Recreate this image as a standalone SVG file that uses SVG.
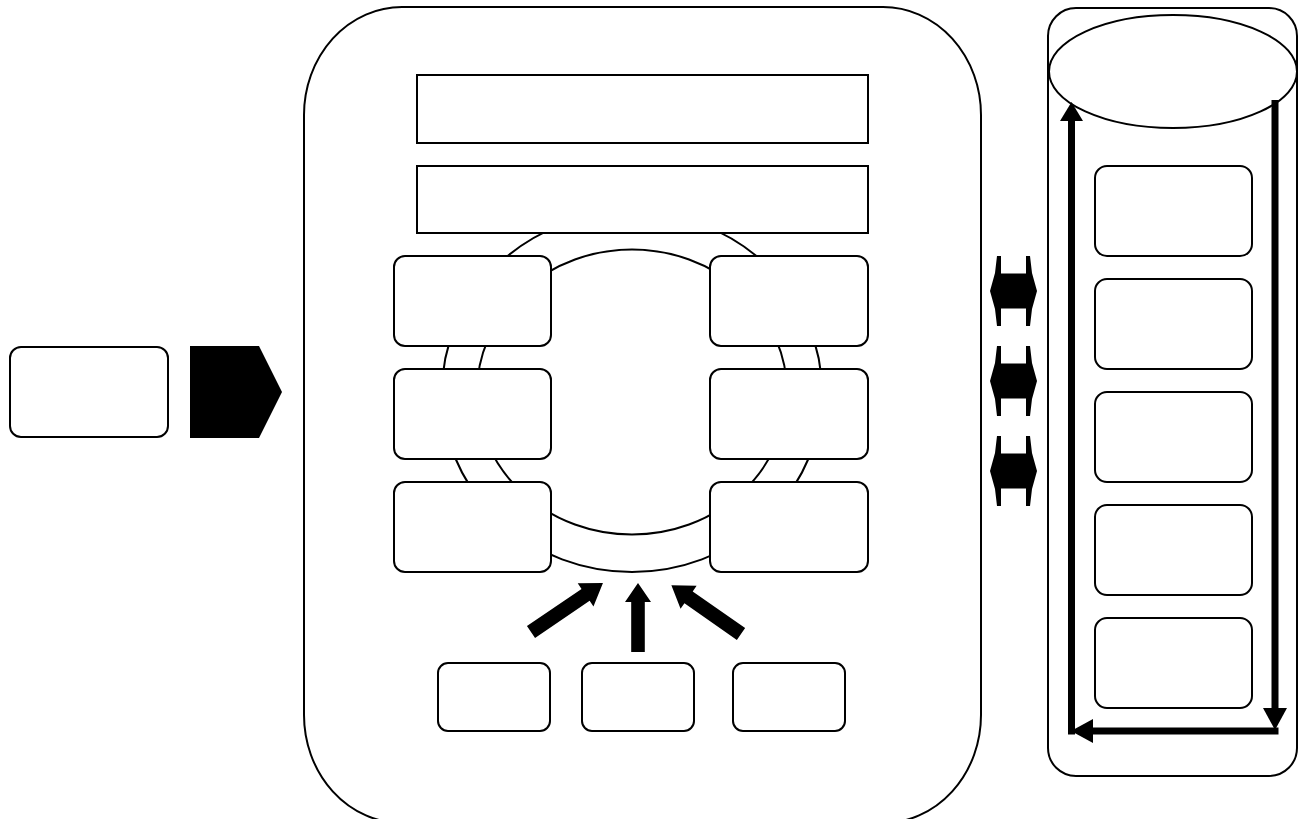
<svg xmlns="http://www.w3.org/2000/svg" width="1299" height="819" viewBox="0 0 1299 819">
  <style>
    .box { fill: #fff; stroke: #000; stroke-width: 2; }
    .solid { fill: #000; stroke: none; }
    .flow { fill: none; stroke: #000; stroke-width: 7; }
  </style>
  <defs>
    <!-- two-way block arrow, centred vertically on y=0 -->
    <polygon id="swap" points="990,0 995,-18 997,-35 1001,-35 1001,-17.5 1026,-17.5 1026,-35 1030,-35 1032,-18 1037,0 1032,18 1030,35 1026,35 1026,17.5 1001,17.5 1001,35 997,35 995,18"/>
  </defs>

  <rect width="1299" height="819" fill="#fff"/>

  <!-- input -->
  <g id="input">
    <rect class="box" x="10" y="347" width="158" height="90" rx="11"/>
  </g>
  <g id="input-arrow">
    <polygon class="solid" points="190,346 259,346 282,392 259,438 190,438"/>
  </g>

  <!-- main container -->
  <g id="main">
    <rect class="box" x="304" y="7" width="677" height="816" rx="98" ry="108"/>
  </g>

  <g id="bar-1">
    <rect class="box" x="417" y="75" width="451" height="68"/>
  </g>

  <!-- ring band -->
  <g id="ring">
    <ellipse class="box" cx="632" cy="392" rx="190" ry="180"/>
    <ellipse class="box" cx="632" cy="392" rx="155" ry="142.5"/>
  </g>

  <g id="bar-2">
    <rect class="box" x="417" y="166" width="451" height="67"/>
  </g>

  <g id="ring-left-1"><rect class="box" x="394" y="256" width="157" height="90" rx="11"/></g>
  <g id="ring-left-2"><rect class="box" x="394" y="369" width="157" height="90" rx="11"/></g>
  <g id="ring-left-3"><rect class="box" x="394" y="482" width="157" height="90" rx="11"/></g>
  <g id="ring-right-1"><rect class="box" x="710" y="256" width="158" height="90" rx="11"/></g>
  <g id="ring-right-2"><rect class="box" x="710" y="369" width="158" height="90" rx="11"/></g>
  <g id="ring-right-3"><rect class="box" x="710" y="482" width="158" height="90" rx="11"/></g>

  <g id="source-1"><rect class="box" x="438" y="663" width="112" height="68" rx="10"/></g>
  <g id="source-2"><rect class="box" x="582" y="663" width="112" height="68" rx="10"/></g>
  <g id="source-3"><rect class="box" x="733" y="663" width="112" height="68" rx="10"/></g>

  <!-- side store -->
  <g id="store">
    <rect class="box" x="1048" y="8" width="249" height="768" rx="28"/>
  </g>
  <g id="store-head">
    <ellipse class="box" cx="1173" cy="71.5" rx="124" ry="56.5"/>
  </g>
  <g id="store-1"><rect class="box" x="1095" y="166" width="157" height="90" rx="12"/></g>
  <g id="store-2"><rect class="box" x="1095" y="279" width="157" height="90" rx="12"/></g>
  <g id="store-3"><rect class="box" x="1095" y="392" width="157" height="90" rx="12"/></g>
  <g id="store-4"><rect class="box" x="1095" y="505" width="157" height="90" rx="12"/></g>
  <g id="store-5"><rect class="box" x="1095" y="618" width="157" height="90" rx="12"/></g>

  <!-- connectors -->
  <g id="connectors">
    <!-- sources feeding the ring -->
    <polygon class="solid" transform="translate(531,632) rotate(-34.2)" points="0,-7.2 66,-7.2 66,-14 87,0 66,14 66,7.2 0,7.2"/>
    <polygon class="solid" transform="translate(638,652) rotate(-90)" points="0,-6.8 50,-6.8 50,-13 69,0 50,13 50,6.8 0,6.8"/>
    <polygon class="solid" transform="translate(741,634) rotate(-145)" points="0,-7.2 64,-7.2 64,-14 85,0 64,14 64,7.2 0,7.2"/>

    <!-- exchange between container and store -->
    <use href="#swap" class="solid" transform="translate(0,291)"/>
    <use href="#swap" class="solid" transform="translate(0,381)"/>
    <use href="#swap" class="solid" transform="translate(0,471)"/>

    <!-- circulation inside the store -->
    <line class="flow" x1="1275" y1="100" x2="1275" y2="708"/>
    <polygon class="solid" points="1263,708 1287,708 1275,730"/>
    <line class="flow" x1="1278.5" y1="731" x2="1093" y2="731"/>
    <polygon class="solid" points="1093,719 1093,743 1071,731"/>
    <line class="flow" x1="1071.5" y1="734.5" x2="1071.5" y2="121"/>
    <polygon class="solid" points="1060,121 1083,121 1071.5,102"/>
  </g>
</svg>
